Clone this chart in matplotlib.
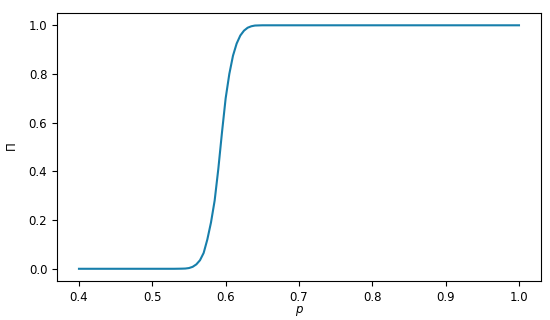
import matplotlib
matplotlib.use('Agg')
import matplotlib.pyplot as plt

# probability p and spanning probability Pi
p_values = [0.40, 0.45, 0.50, 0.53, 0.54, 0.545, 0.55, 0.555, 0.56, 0.565,
            0.57, 0.575, 0.58, 0.585, 0.59, 0.595, 0.60, 0.605, 0.61, 0.615,
            0.62, 0.625, 0.63, 0.635, 0.64, 0.65, 0.70, 0.80, 0.90, 1.00]
pi_values = [0.0, 0.0, 0.0, 0.0, 0.0005, 0.001, 0.003, 0.008, 0.018, 0.035,
             0.065, 0.12, 0.19, 0.28, 0.41, 0.56, 0.70, 0.80, 0.875, 0.925,
             0.958, 0.978, 0.99, 0.996, 0.999, 1.0, 1.0, 1.0, 1.0, 1.0]

fig = plt.figure(figsize=(5.5, 3.2), dpi=100)
ax = fig.add_axes([0.1036, 0.122, 0.88, 0.837])

ax.plot(p_values, pi_values, color='#177fab', linewidth=1.5)

ax.set_xlim(0.37, 1.03)
ax.set_ylim(-0.05, 1.05)
ax.set_xticks([0.4, 0.5, 0.6, 0.7, 0.8, 0.9, 1.0])
ax.set_yticks([0.0, 0.2, 0.4, 0.6, 0.8, 1.0])
ax.tick_params(labelsize=8.5, length=3.5, width=0.8)
ax.set_xlabel('$p$', fontsize=8.5, labelpad=0)
ax.set_ylabel(r'$\Pi$', fontsize=8.5, labelpad=7)

fig.savefig('out.png', dpi=100)
